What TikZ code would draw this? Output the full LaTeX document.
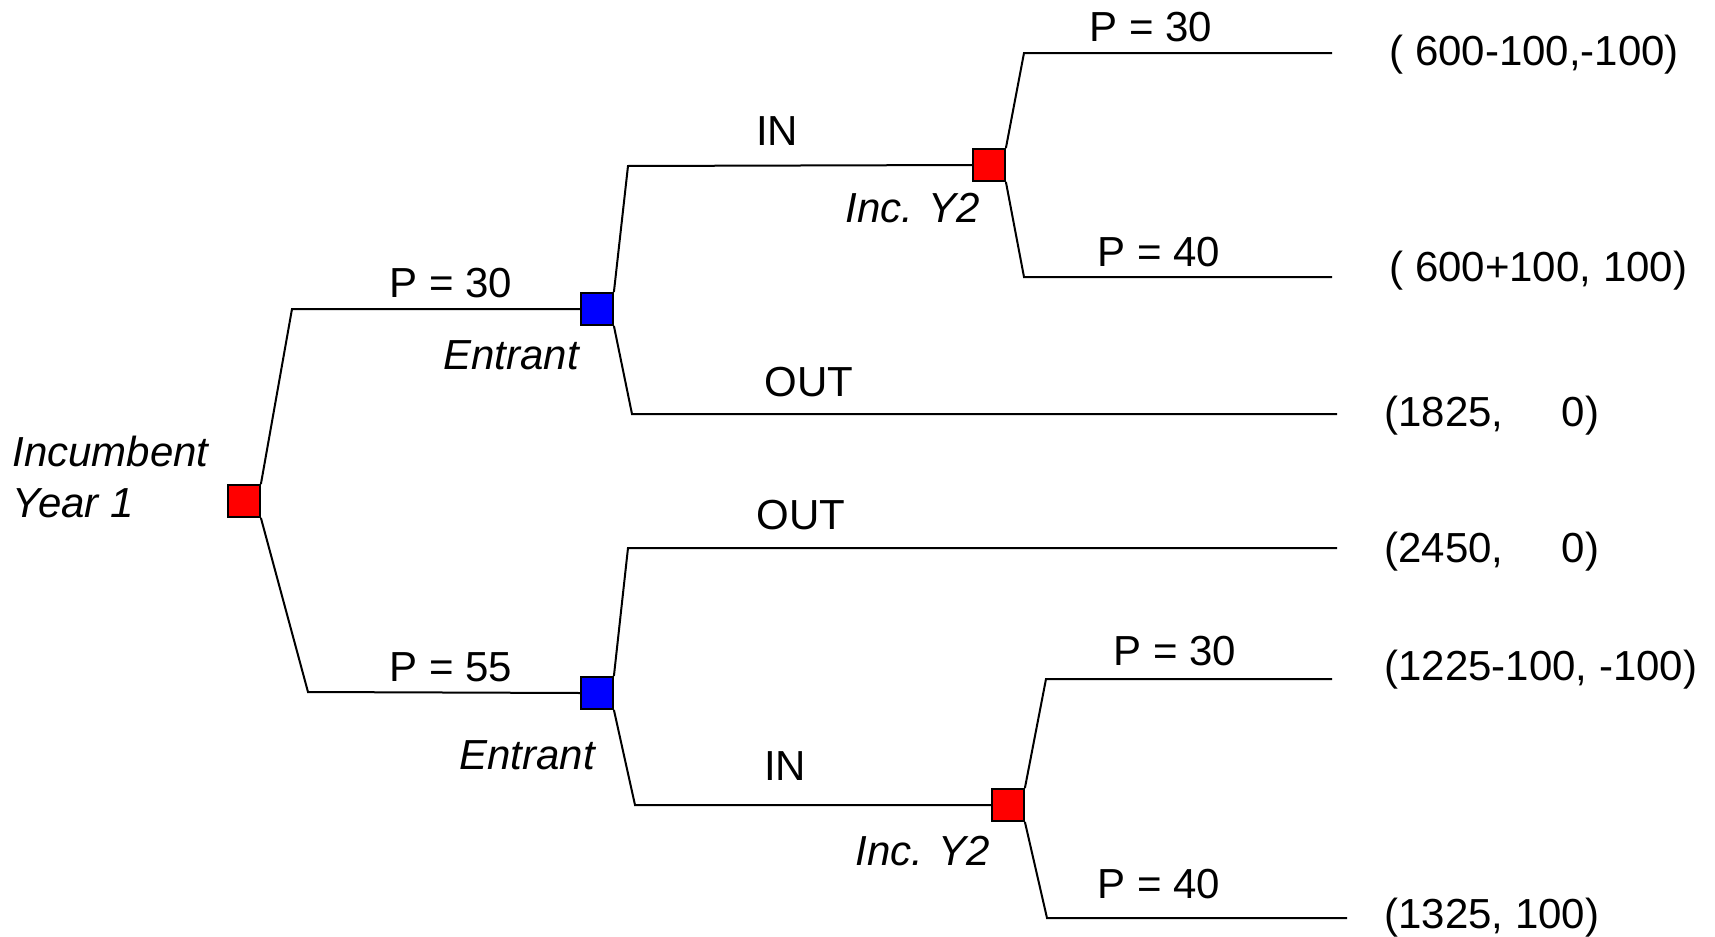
\documentclass[tikz,border=0pt]{standalone}
\usepackage{fontspec}
\setmainfont{Liberation Sans}
\begin{document}
\begin{tikzpicture}[x=0.5pt,y=-0.5pt,
  every node/.style={inner sep=0pt,font=\fontsize{21pt}{25.5pt}\selectfont},
  dnode/.style={draw=black,line width=0.9pt,minimum size=16pt,inner sep=0pt,rectangle},
  inc/.style={dnode,fill=red},
  ent/.style={dnode,fill=blue},
  branch/.style={draw=black,line width=1pt},
  lbl/.style={anchor=center},
  who/.style={anchor=center,font=\fontsize{21pt}{25.5pt}\selectfont\itshape},
  pay/.style={anchor=west}]
\useasboundingbox (0,0) rectangle (1715,937);

% decision nodes
\node[inc] (root) at (244,501) {};
\node[ent] (e1) at (597,309) {};
\node[ent] (e2) at (597,693) {};
\node[inc] (i1) at (989,165) {};
\node[inc] (i2) at (1008,805) {};

% free ends
\coordinate (outA) at (1337,414);
\coordinate (outB) at (1337,548);
\coordinate (t1) at (1332,53);
\coordinate (t2) at (1332,277);
\coordinate (t3) at (1332,679);
\coordinate (t4) at (1347,918);

% branches
\draw[branch] (root.north east) -- (292,309) -- (e1.west);
\draw[branch] (root.south east) -- (308,692) -- (e2.west);
\draw[branch] (e1.north east) -- (628,166) -- (i1.west);
\draw[branch] (e1.south east) -- (632,414) -- (outA);
\draw[branch] (e2.north east) -- (628,548) -- (outB);
\draw[branch] (e2.south east) -- (635,805) -- (i2.west);
\draw[branch] (i1.north east) -- (1024,53) -- (t1);
\draw[branch] (i1.south east) -- (1024,277) -- (t2);
\draw[branch] (i2.north east) -- (1046,679) -- (t3);
\draw[branch] (i2.south east) -- (1047,918) -- (t4);

% player labels
\node[anchor=west,align=left,font=\fontsize{21pt}{25.5pt}\selectfont\itshape] (lroot) at (12,477) {Incumbent\\Year 1};
\node[who] (le1) at (511,355) {Entrant};
\node[who] (le2) at (527,755) {Entrant};
\node[who] (li1) at (913,208) {Inc. Y2};
\node[who] (li2) at (923,851) {Inc. Y2};

% action labels
\node[lbl] (p30a) at (451,283) {P = 30};
\node[lbl] (p55) at (451,667) {P = 55};
\node[lbl] (in1) at (777,131) {IN};
\node[lbl] (out1) at (809,382) {OUT};
\node[lbl] (out2) at (801,515) {OUT};
\node[lbl] (in2) at (785,766) {IN};
\node[lbl] (p30b) at (1151,27) {P = 30};
\node[lbl] (p40a) at (1159,252) {P = 40};
\node[lbl] (p30c) at (1175,651) {P = 30};
\node[lbl] (p40b) at (1159,884) {P = 40};

% payoffs
\node[pay] (pay1) at (1389,55) {( 600-100,-100)};
\node[pay] (pay2) at (1389,271) {( 600+100, 100)};
\node[pay] (pay3) at (1384,416) {(1825,\hspace{1.39em}0)};
\node[pay] (pay4) at (1384,552) {(2450,\hspace{1.39em}0)};
\node[pay] (pay5) at (1384,670) {(1225-100, -100)};
\node[pay] (pay6) at (1384,918) {(1325, 100)};
\end{tikzpicture}
\end{document}
